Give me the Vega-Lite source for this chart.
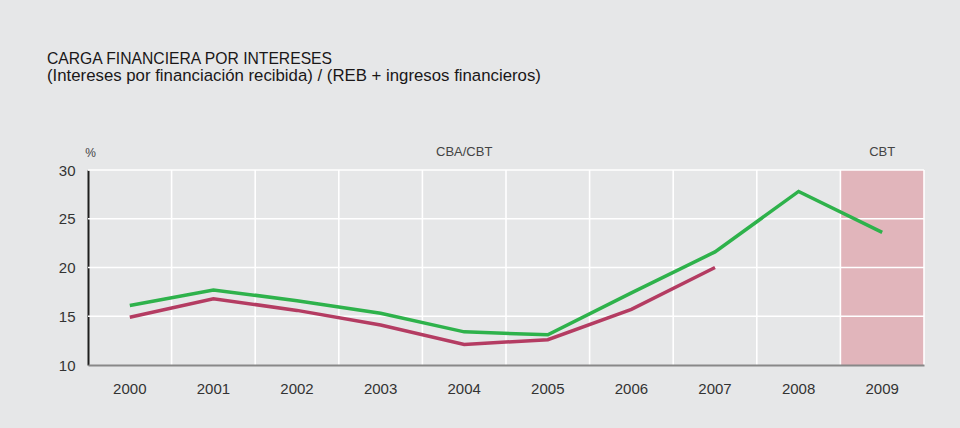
{
  "$schema": "https://vega.github.io/schema/vega-lite/v6.json",
  "width": 836,
  "height": 195,
  "autosize": {"type": "none"},
  "padding": {"left": 88, "top": 170, "right": 36, "bottom": 63},
  "background": "#e6e7e8",
  "view": {"stroke": null},
  "config": {
    "font": "Liberation Sans",
    "axis": {"grid": false, "ticks": false, "labelFont": "Liberation Sans", "labelColor": "#333333", "labelFontSize": 15}
  },
  "title": {
    "text": "CARGA FINANCIERA POR INTERESES",
    "subtitle": "(Intereses por financiación recibida) / (REB + ingresos financieros)",
    "anchor": "start",
    "frame": "group",
    "dx": -41,
    "offset": 60,
    "font": "Liberation Sans",
    "fontSize": 15.7,
    "fontWeight": "normal",
    "color": "#1a1718",
    "subtitleFont": "Liberation Sans",
    "subtitleFontSize": 16.8,
    "subtitleColor": "#1a1718",
    "subtitlePadding": 1
  },
  "datasets": {
    "series": [
      {"year": "2000", "serie": "CBA/CBT verde", "value": 16.1},
      {"year": "2001", "serie": "CBA/CBT verde", "value": 17.7},
      {"year": "2002", "serie": "CBA/CBT verde", "value": 16.6},
      {"year": "2003", "serie": "CBA/CBT verde", "value": 15.3},
      {"year": "2004", "serie": "CBA/CBT verde", "value": 13.4},
      {"year": "2005", "serie": "CBA/CBT verde", "value": 13.1},
      {"year": "2006", "serie": "CBA/CBT verde", "value": 17.4},
      {"year": "2007", "serie": "CBA/CBT verde", "value": 21.6},
      {"year": "2008", "serie": "CBA/CBT verde", "value": 27.8},
      {"year": "2009", "serie": "CBA/CBT verde", "value": 23.6},
      {"year": "2000", "serie": "CBA/CBT rojo", "value": 14.9},
      {"year": "2001", "serie": "CBA/CBT rojo", "value": 16.8},
      {"year": "2002", "serie": "CBA/CBT rojo", "value": 15.6},
      {"year": "2003", "serie": "CBA/CBT rojo", "value": 14.1},
      {"year": "2004", "serie": "CBA/CBT rojo", "value": 12.1},
      {"year": "2005", "serie": "CBA/CBT rojo", "value": 12.6},
      {"year": "2006", "serie": "CBA/CBT rojo", "value": 15.7},
      {"year": "2007", "serie": "CBA/CBT rojo", "value": 20.0}
    ],
    "years": [
      {"year": "2000"}, {"year": "2001"}, {"year": "2002"}, {"year": "2003"}, {"year": "2004"},
      {"year": "2005"}, {"year": "2006"}, {"year": "2007"}, {"year": "2008"}, {"year": "2009"}
    ],
    "ygrid": [{"v": 15}, {"v": 20}, {"v": 25}, {"v": 30}],
    "band": [{"year": "2009"}],
    "labels": [{"year": "2004", "label": "CBA/CBT"}, {"year": "2009", "label": "CBT"}]
  },
  "layer": [
    {
      "data": {"name": "band"},
      "mark": {"type": "rect", "color": "#e1b5bb"},
      "encoding": {
        "x": {
          "field": "year",
          "type": "ordinal",
          "scale": {"domain": ["2000","2001","2002","2003","2004","2005","2006","2007","2008","2009"], "paddingInner": 0, "paddingOuter": 0},
          "axis": {"title": null, "labelAngle": 0, "labelPadding": 16, "domainColor": "#888888", "domainWidth": 2}
        },
        "y": {
          "datum": 30,
          "type": "quantitative",
          "scale": {"domain": [10, 30], "nice": false, "zero": false},
          "axis": {
            "values": [10, 15, 20, 25, 30],
            "labelPadding": 13,
            "domainColor": "#1e1e1e",
            "domainWidth": 2,
            "title": "%",
            "titleAngle": 0,
            "titleX": 2,
            "titleY": -14,
            "titleAlign": "center",
            "titleBaseline": "alphabetic",
            "titleFont": "Liberation Sans",
            "titleFontSize": 12,
            "titleFontWeight": "normal",
            "titleColor": "#444444"
          }
        },
        "y2": {"datum": 10}
      }
    },
    {
      "data": {"name": "years"},
      "mark": {"type": "rule", "color": "#ffffff", "strokeWidth": 1.6},
      "encoding": {
        "x": {"field": "year", "type": "ordinal", "bandPosition": 1}
      }
    },
    {
      "data": {"name": "ygrid"},
      "mark": {"type": "rule", "color": "#ffffff", "strokeWidth": 1.6},
      "encoding": {
        "y": {"field": "v", "type": "quantitative"}
      }
    },
    {
      "data": {"name": "series"},
      "mark": {"type": "line", "strokeWidth": 3.5},
      "encoding": {
        "x": {"field": "year", "type": "ordinal"},
        "y": {"field": "value", "type": "quantitative"},
        "color": {
          "field": "serie",
          "type": "nominal",
          "scale": {"domain": ["CBA/CBT verde", "CBA/CBT rojo"], "range": ["#2eb24b", "#b43c62"]},
          "legend": null
        }
      }
    },
    {
      "data": {"name": "labels"},
      "mark": {"type": "text", "fontSize": 13, "color": "#444444", "baseline": "alphabetic", "dy": -14},
      "encoding": {
        "x": {"field": "year", "type": "ordinal"},
        "y": {"datum": 30},
        "text": {"field": "label"}
      }
    }
  ]
}
